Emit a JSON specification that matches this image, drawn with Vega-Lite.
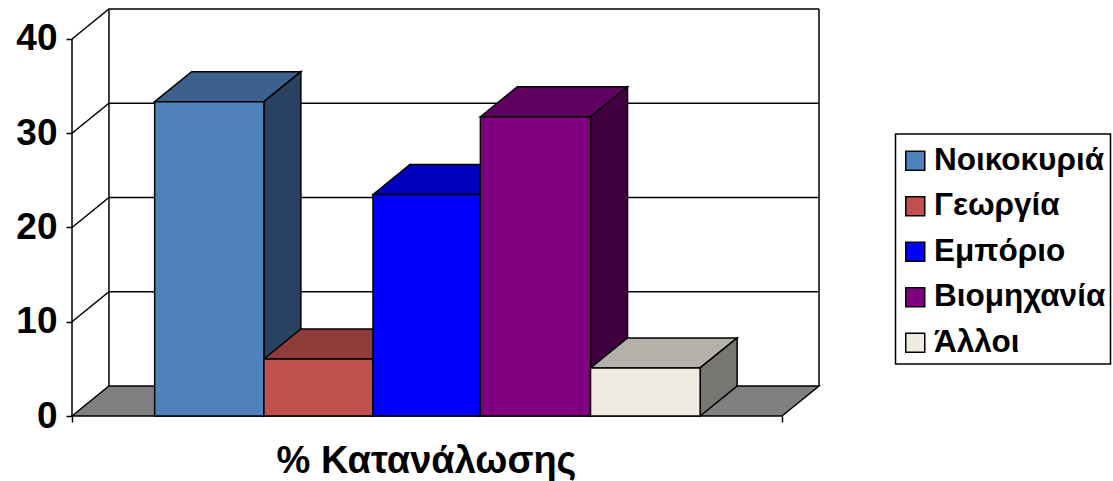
{
  "$schema": "https://vega.github.io/schema/vega-lite/v6.json",
  "autosize": "none",
  "width": 747,
  "height": 407,
  "padding": {"left": 72, "top": 9, "right": 294, "bottom": 65},
  "background": "white",
  "config": {"view": {"stroke": null}, "font": "Liberation Sans"},
  "datasets": {
    "bars": [
      {"name": "Νοικοκυριά", "start": 0.758, "end": 1.76, "value": 33.35},
      {"name": "Γεωργία", "start": 1.76, "end": 2.76, "value": 6.05},
      {"name": "Εμπόριο", "start": 2.76, "end": 3.745, "value": 23.5},
      {"name": "Βιομηχανία", "start": 3.745, "end": 4.755, "value": 31.75},
      {"name": "Άλλοι", "start": 4.755, "end": 5.76, "value": 5.1}
    ],
    "frame": [
      {"seg": "wallLeft", "x": 0.339, "y": 3.18},
      {"seg": "wallLeft", "x": 0.339, "y": 43.18},
      {"seg": "wallRight", "x": 6.85, "y": 3.18},
      {"seg": "wallRight", "x": 6.85, "y": 43.18},
      {"seg": "axis", "x": 0, "y": 0},
      {"seg": "axis", "x": 0, "y": 40},
      {"seg": "g40", "x": 0, "y": 40},
      {"seg": "g40", "x": 0.339, "y": 43.18},
      {"seg": "g40", "x": 6.85, "y": 43.18},
      {"seg": "g30", "x": 0, "y": 30},
      {"seg": "g30", "x": 0.339, "y": 33.18},
      {"seg": "g30", "x": 6.85, "y": 33.18},
      {"seg": "g20", "x": 0, "y": 20},
      {"seg": "g20", "x": 0.339, "y": 23.18},
      {"seg": "g20", "x": 6.85, "y": 23.18},
      {"seg": "g10", "x": 0, "y": 10},
      {"seg": "g10", "x": 0.339, "y": 13.18},
      {"seg": "g10", "x": 6.85, "y": 13.18}
    ],
    "faces": [
      {"face": "floor", "x": 0, "high": 0, "low": 0},
      {"face": "floor", "x": 0.339, "high": 3.18, "low": 0},
      {"face": "floor", "x": 6.51, "high": 3.18, "low": 0},
      {"face": "floor", "x": 6.85, "high": 3.18, "low": 3.18},

      {"face": "Νοικοκυριά top", "x": 0.758, "high": 33.35, "low": 33.35},
      {"face": "Νοικοκυριά top", "x": 1.097, "high": 36.53, "low": 33.35},
      {"face": "Νοικοκυριά top", "x": 1.76, "high": 36.53, "low": 33.35},
      {"face": "Νοικοκυριά top", "x": 2.099, "high": 36.53, "low": 36.53},
      {"face": "Νοικοκυριά side", "x": 1.76, "high": 33.35, "low": 0},
      {"face": "Νοικοκυριά side", "x": 2.099, "high": 36.53, "low": 3.18},

      {"face": "Γεωργία top", "x": 1.76, "high": 6.05, "low": 6.05},
      {"face": "Γεωργία top", "x": 2.099, "high": 9.23, "low": 6.05},
      {"face": "Γεωργία top", "x": 2.76, "high": 9.23, "low": 6.05},
      {"face": "Γεωργία top", "x": 3.099, "high": 9.23, "low": 9.23},
      {"face": "Γεωργία side", "x": 2.76, "high": 6.05, "low": 0},
      {"face": "Γεωργία side", "x": 3.099, "high": 9.23, "low": 3.18},

      {"face": "Εμπόριο top", "x": 2.76, "high": 23.5, "low": 23.5},
      {"face": "Εμπόριο top", "x": 3.099, "high": 26.68, "low": 23.5},
      {"face": "Εμπόριο top", "x": 3.745, "high": 26.68, "low": 23.5},
      {"face": "Εμπόριο top", "x": 4.084, "high": 26.68, "low": 26.68},
      {"face": "Εμπόριο side", "x": 3.745, "high": 23.5, "low": 0},
      {"face": "Εμπόριο side", "x": 4.084, "high": 26.68, "low": 3.18},

      {"face": "Βιομηχανία top", "x": 3.745, "high": 31.75, "low": 31.75},
      {"face": "Βιομηχανία top", "x": 4.084, "high": 34.93, "low": 31.75},
      {"face": "Βιομηχανία top", "x": 4.755, "high": 34.93, "low": 31.75},
      {"face": "Βιομηχανία top", "x": 5.094, "high": 34.93, "low": 34.93},
      {"face": "Βιομηχανία side", "x": 4.755, "high": 31.75, "low": 0},
      {"face": "Βιομηχανία side", "x": 5.094, "high": 34.93, "low": 3.18},

      {"face": "Άλλοι top", "x": 4.755, "high": 5.1, "low": 5.1},
      {"face": "Άλλοι top", "x": 5.094, "high": 8.28, "low": 5.1},
      {"face": "Άλλοι top", "x": 5.76, "high": 8.28, "low": 5.1},
      {"face": "Άλλοι top", "x": 6.099, "high": 8.28, "low": 8.28},
      {"face": "Άλλοι side", "x": 5.76, "high": 5.1, "low": 0},
      {"face": "Άλλοι side", "x": 6.099, "high": 8.28, "low": 3.18}
    ]
  },
  "layer": [
    {
      "data": {"name": "frame"},
      "mark": {"type": "line", "color": "black", "strokeWidth": 1.5},
      "encoding": {
        "x": {
          "field": "x", "type": "quantitative",
          "scale": {"domain": [0, 6.85], "nice": false, "zero": false},
          "axis": {
            "values": [0, 6.51], "labels": false, "domain": false, "grid": false,
            "ticks": true, "tickSize": 6, "tickWidth": 1.5, "tickColor": "black",
            "title": "% Κατανάλωσης", "titleFontSize": 38, "titleFontWeight": "bold",
            "titleColor": "black", "titleX": 354, "titleY": 56, "titleBaseline": "alphabetic",
            "titleFont": "Liberation Sans"
          }
        },
        "y": {
          "field": "y", "type": "quantitative",
          "scale": {"domain": [0, 43.18], "nice": false, "zero": false},
          "axis": {
            "values": [0, 10, 20, 30, 40], "domain": false, "grid": false,
            "ticks": true, "tickSize": 6, "tickWidth": 1.5, "tickColor": "black",
            "labelFontSize": 37, "labelFontWeight": "bold", "labelColor": "black",
            "labelPadding": 9, "labelFont": "Liberation Sans", "title": null
          }
        },
        "detail": {"field": "seg"}
      }
    },
    {
      "data": {"name": "faces"},
      "mark": {"type": "area", "stroke": "black", "strokeWidth": 1.5, "line": false, "opacity": 1},
      "encoding": {
        "x": {"field": "x", "type": "quantitative"},
        "y": {"field": "high", "type": "quantitative", "stack": null, "title": null},
        "y2": {"field": "low"},
        "fill": {
          "field": "face", "type": "nominal", "legend": null,
          "scale": {
            "domain": ["floor", "Νοικοκυριά top", "Νοικοκυριά side", "Γεωργία top", "Γεωργία side", "Εμπόριο top", "Εμπόριο side", "Βιομηχανία top", "Βιομηχανία side", "Άλλοι top", "Άλλοι side"],
            "range": ["#808080", "#3C618F", "#2A4261", "#903C3A", "#602826", "#0000BF", "#000080", "#600060", "#400040", "#B3B1A9", "#777671"]
          }
        }
      }
    },
    {
      "data": {"name": "bars"},
      "mark": {"type": "rect", "stroke": "black", "strokeWidth": 1.5},
      "encoding": {
        "x": {"field": "start", "type": "quantitative"},
        "x2": {"field": "end"},
        "y": {"field": "value", "type": "quantitative", "title": null},
        "y2": {"datum": 0},
        "color": {
          "field": "name", "type": "nominal", "sort": null,
          "scale": {
            "domain": ["Νοικοκυριά", "Γεωργία", "Εμπόριο", "Βιομηχανία", "Άλλοι"],
            "range": ["#4F81BD", "#C0504D", "#0000FF", "#800080", "#EEECE1"]
          },
          "legend": {
            "orient": "none", "legendX": 823.5, "legendY": 125,
            "title": " ", "titleFontSize": 1, "titlePadding": 5,
            "symbolType": "square", "symbolSize": 361, "symbolStrokeColor": "black",
            "symbolStrokeWidth": 1.5, "symbolOpacity": 1, "symbolOffset": -1,
            "labelFontSize": 31.5, "labelFontWeight": "bold", "labelColor": "black",
            "labelFont": "Liberation Sans", "labelLimit": 300, "labelOffset": 3,
            "rowPadding": 12.5, "padding": 5, "strokeColor": "black",
            "fillColor": "white",
            "encode": {"legend": {"update": {"strokeWidth": {"value": 1.5}}}}
          }
        }
      }
    }
  ]
}
